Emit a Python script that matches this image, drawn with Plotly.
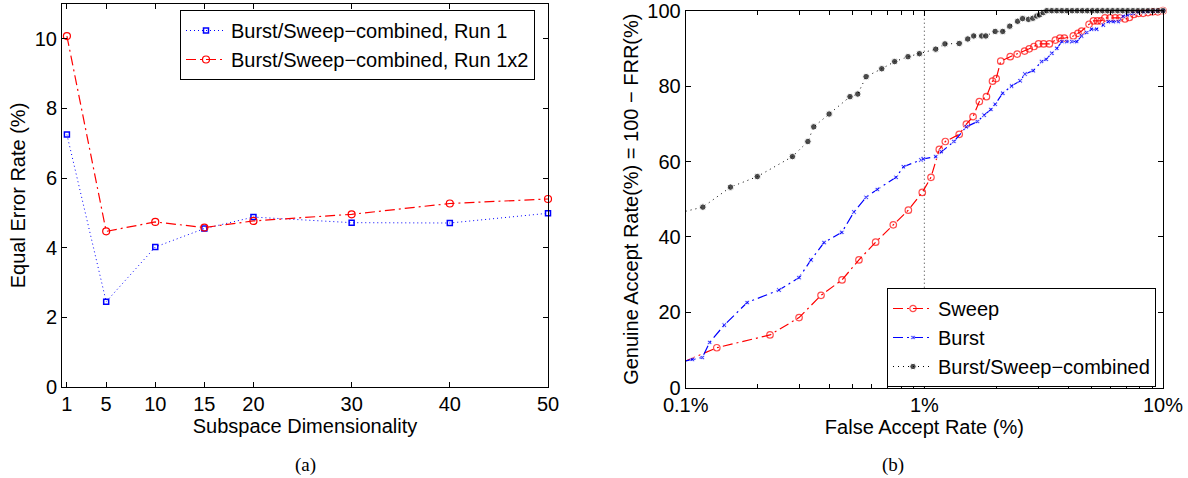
import plotly.graph_objects as go

# ---------------- data: panel (a) ----------------
dims = [1, 5, 10, 15, 20, 30, 40, 50]
eer_run1 = [7.25, 2.45, 4.02, 4.55, 4.88, 4.72, 4.71, 4.99]
eer_run1x2 = [10.08, 4.47, 4.74, 4.58, 4.77, 4.96, 5.27, 5.40]
xticks_a = [1, 5, 10, 15, 20, 30, 40, 50]
yticks_a = [0, 2, 4, 6, 8, 10]

# ---------------- data: panel (b) ----------------
sweep_far = [0.1, 0.135, 0.2255, 0.2985, 0.369, 0.452, 0.532, 0.625, 0.741, 0.857,
             0.980, 1.066, 1.155, 1.224, 1.40, 1.50, 1.60, 1.70, 1.82, 1.93,
             2.00, 2.09, 2.29, 2.45, 2.63, 2.75, 2.88, 3.01, 3.16, 3.34,
             3.54, 3.70, 3.86, 4.21, 4.40, 4.56, 4.90, 5.11, 5.31, 5.50,
             5.71, 6.00, 6.30, 6.60, 6.93, 7.23, 7.55, 7.90, 8.25, 8.65,
             9.05, 9.50, 10.0]
sweep_gar = [7.1, 10.6, 14.0, 18.6, 24.5, 28.6, 33.9, 38.6, 43.2, 47.1,
             51.8, 55.8, 63.2, 65.3, 67.2, 69.9, 71.9, 75.9, 77.2, 81.3,
             82.0, 86.6, 87.8, 88.5, 89.3, 89.9, 90.5, 91.2, 91.2, 91.2,
             92.2, 92.7, 92.7, 93.3, 94.0, 94.6, 96.4, 97.3, 97.3, 97.3,
             98.1, 98.1, 98.1, 98.1, 97.8, 98.2, 99.0, 99.3, 99.3, 99.5,
             99.7, 99.7, 100.0]

burst_far = [0.1, 0.1066, 0.1174, 0.126, 0.145, 0.181, 0.246, 0.2985, 0.335, 0.380,
             0.451, 0.507, 0.570, 0.635, 0.761, 0.818, 0.968, 0.99, 1.116, 1.18,
             1.33, 1.50, 1.67, 1.78, 1.90, 1.98, 2.13, 2.32, 2.52, 2.64,
             2.86, 3.10, 3.24, 3.42, 3.59, 3.77, 3.95, 4.15, 4.35, 4.56,
             4.79, 5.02, 5.27, 5.62, 5.90, 6.19, 6.50, 6.81, 7.10, 7.50,
             7.87, 8.30, 8.80, 9.30, 10.0]
burst_gar = [7.1, 7.5, 8.0, 12.0, 16.6, 22.6, 25.9, 29.2, 33.9, 38.5,
             41.2, 46.6, 50.5, 52.6, 55.8, 58.6, 60.4, 60.7, 61.3, 62.6,
             65.3, 69.2, 70.6, 72.3, 73.8, 75.2, 78.1, 80.0, 81.4, 83.2,
             84.1, 86.5, 87.1, 88.7, 90.0, 91.8, 91.8, 91.8, 91.8, 93.3,
             94.2, 95.1, 95.1, 96.2, 97.1, 97.1, 97.1, 98.5, 98.9, 99.3,
             99.5, 99.6, 99.8, 99.9, 100.0]

comb_far = [0.1, 0.118, 0.154, 0.1995, 0.280, 0.325, 0.344, 0.399, 0.488, 0.526,
            0.570, 0.663, 0.751, 0.854, 0.953, 1.116, 1.22, 1.40, 1.52, 1.61,
            1.74, 1.81, 1.98, 2.13, 2.28, 2.46, 2.58, 2.73, 2.85, 2.96,
            3.04, 3.15, 3.26, 3.42, 3.59, 3.77, 3.96, 4.16, 4.37, 4.59,
            4.82, 5.06, 5.31, 5.58, 5.86, 6.15, 6.46, 6.78, 7.12, 7.48,
            7.85, 8.24, 8.65, 9.08, 9.54, 10.0]
comb_gar = [46.8, 47.9, 53.2, 56.0, 61.3, 65.3, 69.2, 72.6, 77.2, 77.9,
            82.5, 84.6, 86.5, 87.8, 88.6, 89.8, 91.2, 91.3, 92.5, 93.3,
            93.3, 93.3, 94.5, 94.5, 95.9, 97.2, 97.9, 97.7, 98.0, 98.6,
            98.9, 99.5, 100, 100, 100, 100, 100, 100, 100, 100,
            100, 100, 100, 100, 100, 100, 100, 100, 100, 100,
            100, 100, 100, 100, 100, 100]

xticks_b = [0.1, 1, 10]
xticklabels_b = ["0.1%", "1%", "10%"]
xminor_b = [0.2, 0.3, 0.4, 0.5, 0.6, 0.7, 0.8, 0.9, 2, 3, 4, 5, 6, 7, 8, 9]
yticks_b = [0, 20, 40, 60, 80, 100]

# ---------------- figure ----------------
FONT = "Liberation Sans, Arial, sans-serif"
FS = 20
W, H = 1188, 478

def px_x(p):
    return p / W

def px_y(p):
    return 1 - p / H

fig = go.Figure()

fig.add_trace(go.Scatter(
    x=dims, y=eer_run1, name="Burst/Sweep\u2212combined, Run 1",
    mode="lines+markers", xaxis="x", yaxis="y", legend="legend",
    line=dict(color="#0000ff", width=1, dash="1px,3px"),
    marker=dict(symbol="square-open", size=5, color="#0000ff", line=dict(width=1.5)),
    cliponaxis=False))
fig.add_trace(go.Scatter(
    x=dims, y=eer_run1x2, name="Burst/Sweep\u2212combined, Run 1x2",
    mode="lines+markers", xaxis="x", yaxis="y", legend="legend",
    line=dict(color="#ff0000", width=1.2, dash="10px,4px,2px,4px"),
    marker=dict(symbol="circle-open", size=7, color="#ff0000", line=dict(width=1.2)),
    cliponaxis=False))

def sizes(n, s):
    return [0] + [s] * (n - 1)

fig.add_trace(go.Scatter(
    x=sweep_far, y=sweep_gar, name="Sweep",
    mode="lines+markers", xaxis="x2", yaxis="y2", legend="legend2",
    line=dict(color="#ff0000", width=1.2, dash="10px,4px,2px,4px"),
    marker=dict(symbol="circle-open", size=sizes(len(sweep_far), 6.5), color="#ff0000",
                line=dict(width=1.2)),
    cliponaxis=False))
fig.add_trace(go.Scatter(
    x=burst_far, y=burst_gar, name="Burst",
    mode="lines+markers", xaxis="x2", yaxis="y2", legend="legend2",
    line=dict(color="#0000ff", width=1.2, dash="10px,4px,2px,4px"),
    marker=dict(symbol="x", size=sizes(len(burst_far), 4.5), color="#0000ff"),
    cliponaxis=False))
fig.add_trace(go.Scatter(
    x=comb_far, y=comb_gar, name="Burst/Sweep\u2212combined",
    mode="lines+markers", xaxis="x2", yaxis="y2", legend="legend2",
    line=dict(color="#000000", width=1, dash="1px,4px"),
    marker=dict(symbol="circle", size=sizes(len(comb_far), 6.5), color="#000000"),
    cliponaxis=False))

axis_common = dict(showline=True, linecolor="black", linewidth=1, mirror="ticks",
                   ticks="inside", ticklen=5, tickcolor="black", tickwidth=1,
                   showgrid=False, zeroline=False, automargin=False,
                   ticklabeloverflow="allow",
                   tickfont=dict(family=FONT, size=FS, color="black"))

fig.update_layout(
    width=W, height=H,
    margin=dict(l=0, r=0, t=0, b=0),
    paper_bgcolor="white", plot_bgcolor="white",
    font=dict(family=FONT, size=FS, color="black"),
    template="none",
    xaxis=dict(domain=[px_x(62), px_x(548)], anchor="y", range=[0.5, 50],
               tickvals=xticks_a, ticktext=[str(v) for v in xticks_a],
               ticklabelstandoff=-1,
               title=dict(text="Subspace Dimensionality", standoff=0,
                          font=dict(family=FONT, size=FS)),
               **axis_common),
    yaxis=dict(domain=[px_y(387), px_y(4)], anchor="x", range=[0, 11],
               tickvals=yticks_a,
               title=dict(text="Equal Error Rate (%)", standoff=3,
                          font=dict(family=FONT, size=FS)),
               **axis_common),
    xaxis2=dict(domain=[px_x(685.7), px_x(1163)], anchor="y2", type="log",
                range=[-1, 1], tickvals=xticks_b, ticktext=xticklabels_b,
                ticklabelstandoff=-1,
                minor=dict(tickvals=xminor_b, ticks="inside", ticklen=4,
                           tickcolor="black", showgrid=False),
                title=dict(text="False Accept Rate (%)", standoff=0,
                           font=dict(family=FONT, size=FS)),
                **axis_common),
    yaxis2=dict(domain=[px_y(387.7), px_y(10.7)], anchor="x2", range=[0, 100],
                tickvals=yticks_b,
                title=dict(text="Genuine Accept Rate(%) = 100 \u2212 FRR(%)", standoff=3,
                           font=dict(family=FONT, size=FS)),
                **axis_common),
    legend=dict(x=px_x(535), y=px_y(10), xanchor="right", yanchor="top",
                bgcolor="white", bordercolor="black", borderwidth=1,
                font=dict(family=FONT, size=FS), tracegroupgap=0,
                itemwidth=40),
    legend2=dict(x=px_x(1156), y=px_y(387), xanchor="right", yanchor="bottom",
                 bgcolor="white", bordercolor="black", borderwidth=1,
                 font=dict(family=FONT, size=FS), tracegroupgap=0,
                 itemwidth=40),
    showlegend=True,
)

# dotted vertical reference line at FAR = 1%
fig.add_shape(type="line", xref="x2", yref="y2 domain", x0=1, x1=1, y0=0, y1=1,
              line=dict(color="#333333", width=1, dash="1px,3px"), layer="below")

# panel captions
cap_font = dict(family="Liberation Serif, Times New Roman, serif", size=19, color="black")
fig.add_annotation(text="(a)", x=px_x(305), y=px_y(465), xref="paper", yref="paper",
                   xanchor="center", yanchor="middle", showarrow=False, font=cap_font)
fig.add_annotation(text="(b)", x=px_x(893), y=px_y(465), xref="paper", yref="paper",
                   xanchor="center", yanchor="middle", showarrow=False, font=cap_font)

fig.write_html("out.html", config={"displayModeBar": False},
               post_script="document.body.style.margin='0';document.body.style.overflow='hidden';")
